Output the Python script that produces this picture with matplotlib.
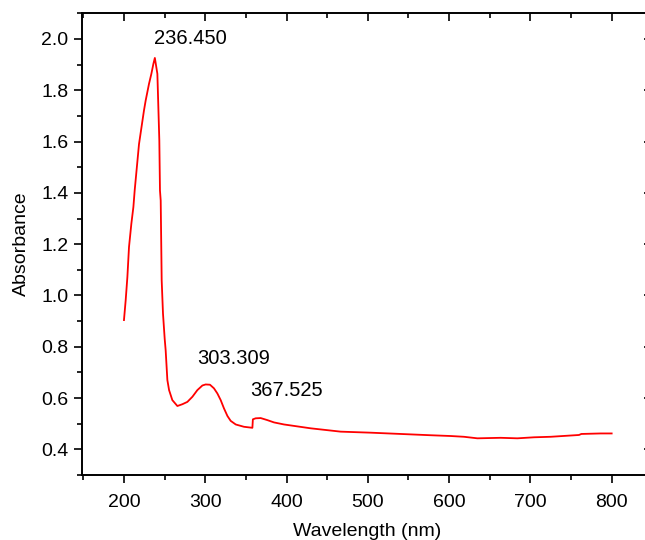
import numpy as np
import matplotlib
matplotlib.use('Agg')
import matplotlib.pyplot as plt
from matplotlib.ticker import MultipleLocator, FormatStrFormatter

plt.rcParams['font.family'] = ['Liberation Sans', 'DejaVu Sans']

# spectrum
wavelength = [200.0, 202.1, 204.2, 206.2, 209.1, 211.6, 213.2, 218.5, 224.6,
              226.7, 230.8, 233.7, 236.2, 238.0, 241.1, 242.3, 243.5, 244.3, 245.2,
              246.4, 248.0, 250.1, 251.3, 253.4, 255.5, 259.5, 265.7, 271.9, 278.0,
              284.2, 290.3, 296.5, 300.5, 305.8, 310.7, 314.9, 319.0, 323.0, 327.3,
              331.3, 337.5, 347.6, 358.0, 358.6, 362.0, 368.2, 376.4, 384.6, 396.9,
              429.7, 466.6, 503.5, 540.4, 577.3, 601.9, 618.3, 634.8, 663.5, 684.0,
              704.5, 725.0, 759.8, 762.7, 786.5, 800.0]
absorbance = [0.904, 0.981, 1.072, 1.189, 1.280, 1.345, 1.410, 1.590, 1.721,
              1.760, 1.825, 1.864, 1.903, 1.926, 1.864, 1.734, 1.604, 1.409, 1.370,
              1.059, 0.930, 0.831, 0.786, 0.670, 0.631, 0.592, 0.569, 0.576, 0.585,
              0.605, 0.631, 0.649, 0.653, 0.652, 0.638, 0.618, 0.592, 0.560, 0.530,
              0.511, 0.497, 0.488, 0.484, 0.517, 0.521, 0.522, 0.514, 0.505, 0.497,
              0.482, 0.469, 0.465, 0.460, 0.455, 0.452, 0.449, 0.443, 0.445, 0.443,
              0.447, 0.449, 0.456, 0.460, 0.462, 0.462]

peak_labels = ['236.450', '303.309', '367.525']
label_x = [236.45, 290.3, 355.0]
label_y = [2.0, 0.754, 0.631]

fig = plt.figure(figsize=(6.45, 5.40), dpi=100)
ax = fig.add_axes([81.7 / 645, 65 / 540, (652.3 - 81.7) / 645, (475 - 13.3) / 540])

ax.plot(wavelength, absorbance, color='red', linewidth=1.3)

for txt, x, y in zip(peak_labels, label_x, label_y):
    ax.text(x, y, txt, ha='left', va='center', fontsize=14.5)

ax.set_xlim(148, 850)
ax.set_ylim(0.3, 2.1)
ax.xaxis.set_major_locator(MultipleLocator(100))
ax.xaxis.set_minor_locator(MultipleLocator(50))
ax.yaxis.set_major_locator(MultipleLocator(0.2))
ax.yaxis.set_minor_locator(MultipleLocator(0.1))
ax.yaxis.set_major_formatter(FormatStrFormatter('%.1f'))

ax.tick_params(which='both', direction='out', width=1.2, labelsize=14, top=False, right=False)
ax.tick_params(which='major', length=6)
ax.tick_params(which='minor', length=3.5)
ax.tick_params(axis='x', pad=8)

for sp in ax.spines.values():
    sp.set_linewidth(1.4)

# twin axes carry the inward ticks on top and right, no labels
axt = ax.twiny()
axt.set_xlim(ax.get_xlim())
axt.xaxis.set_major_locator(MultipleLocator(100))
axt.xaxis.set_minor_locator(MultipleLocator(50))
axt.tick_params(which='both', direction='in', width=1.2, labeltop=False)
axt.tick_params(which='major', length=6)
axt.tick_params(which='minor', length=3.5)
for sp in axt.spines.values():
    sp.set_visible(False)

axr = ax.twinx()
axr.set_ylim(ax.get_ylim())
axr.yaxis.set_major_locator(MultipleLocator(0.2))
axr.yaxis.set_minor_locator(MultipleLocator(0.1))
axr.tick_params(which='both', direction='in', width=1.2, labelright=False)
axr.tick_params(which='major', length=6)
axr.tick_params(which='minor', length=3.5)
for sp in axr.spines.values():
    sp.set_visible(False)

ax.set_xlabel('Wavelength (nm)', fontsize=14, labelpad=8)
ax.set_ylabel('Absorbance', fontsize=14, labelpad=8)

fig.savefig('out.png', dpi=100)
